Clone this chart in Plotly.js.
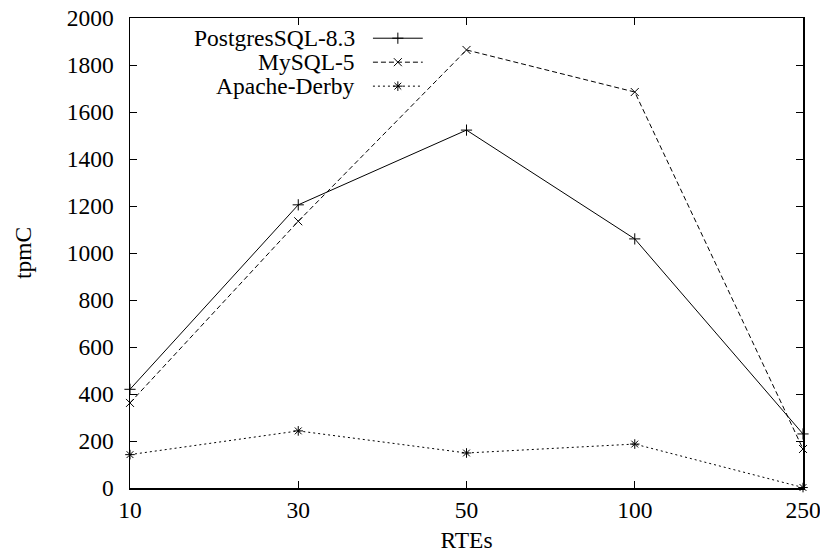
<!DOCTYPE html>
<html>
<head>
<meta charset="utf-8">
<script src="https://cdn.plot.ly/plotly-3.0.1.min.js"></script>
<style>html,body{margin:0;padding:0;background:#fff;}#chart{width:820px;height:556px;}</style>
</head>
<body>
<div id="chart"></div>
<script>
const rtes = ['10', '30', '50', '100', '250'];
const postgres = [420, 1205, 1523, 1060, 230];
const mysql = [362, 1135, 1864, 1685, 166];
const derby = [142, 243, 149, 187, 2];
const seriesNames = ['PostgresSQL-8.3', 'MySQL-5', 'Apache-Derby'];
const yTicks = [0, 200, 400, 600, 800, 1000, 1200, 1400, 1600, 1800, 2000];

const font = '"Times New Roman", "Liberation Serif", Times, "DejaVu Serif", serif';
const fs = 23.5;
const styles = [
  {dash: 'solid', symbol: 'cross-thin'},
  {dash: '5px,3px', symbol: 'x-thin'},
  {dash: '2px,3px', symbol: 'asterisk-open'}
];
const data = [postgres, mysql, derby];

const traces = data.map((vals, i) => ({
  x: rtes, y: vals, type: 'scatter', mode: 'lines+markers',
  name: seriesNames[i], showlegend: false,
  line: {color: '#000', width: 1, dash: styles[i].dash},
  marker: {symbol: styles[i].symbol, size: 8, color: '#000', line: {color: '#000', width: 1}},
  cliponaxis: false
}));

// custom legend (text left of sample) on helper axes
const legY = [0.957, 0.906, 0.855];
const annotations = [];
seriesNames.forEach((n, i) => {
  traces.push({
    x: [0.361, 0.435], y: [legY[i], legY[i]], xaxis: 'x2', yaxis: 'y2',
    type: 'scatter', mode: 'lines', showlegend: false, hoverinfo: 'skip',
    line: {color: '#000', width: 1, dash: styles[i].dash}
  });
  traces.push({
    x: [0.398], y: [legY[i]], xaxis: 'x2', yaxis: 'y2',
    type: 'scatter', mode: 'markers', showlegend: false, hoverinfo: 'skip',
    marker: {symbol: styles[i].symbol, size: 8, color: '#000', line: {color: '#000', width: 1}}
  });
  annotations.push({
    xref: 'x2', yref: 'y2', x: 0.338, y: legY[i], xanchor: 'right', yanchor: 'middle',
    text: n, showarrow: false, font: {family: font, size: fs, color: '#000'}
  });
});

const layout = {
  width: 820, height: 556,
  margin: {l: 130, r: 17, t: 18, b: 68},
  paper_bgcolor: '#fff', plot_bgcolor: '#fff',
  showlegend: false,
  font: {family: font, size: fs, color: '#000'},
  xaxis: {
    type: 'category', range: [0, 4], showgrid: false, zeroline: false,
    showline: true, linecolor: '#000', linewidth: 1.5, mirror: 'allticks',
    ticks: 'inside', ticklen: 7, tickcolor: '#000', tickwidth: 1,
    ticklabelstandoff: 0,
    tickfont: {family: font, size: fs, color: '#000'},
    title: {text: 'RTEs', font: {family: font, size: fs, color: '#000'}, standoff: 10}
  },
  yaxis: {
    range: [0, 2000], tickvals: yTicks, showgrid: false, zeroline: false,
    showline: true, linecolor: '#000', linewidth: 1.5, mirror: 'allticks',
    ticks: 'inside', ticklen: 7, tickcolor: '#000', tickwidth: 1,
    ticklabelstandoff: 10,
    tickfont: {family: font, size: fs, color: '#000'},
    title: {text: 'tpmC', font: {family: font, size: fs, color: '#000'}, standoff: 28}
  },
  xaxis2: {range: [0, 1], overlaying: 'x', visible: false, fixedrange: true},
  yaxis2: {range: [0, 1], overlaying: 'y', visible: false, fixedrange: true},
  annotations: annotations
};

Plotly.newPlot('chart', traces, layout, {displayModeBar: false, staticPlot: true});
</script>
</body>
</html>
